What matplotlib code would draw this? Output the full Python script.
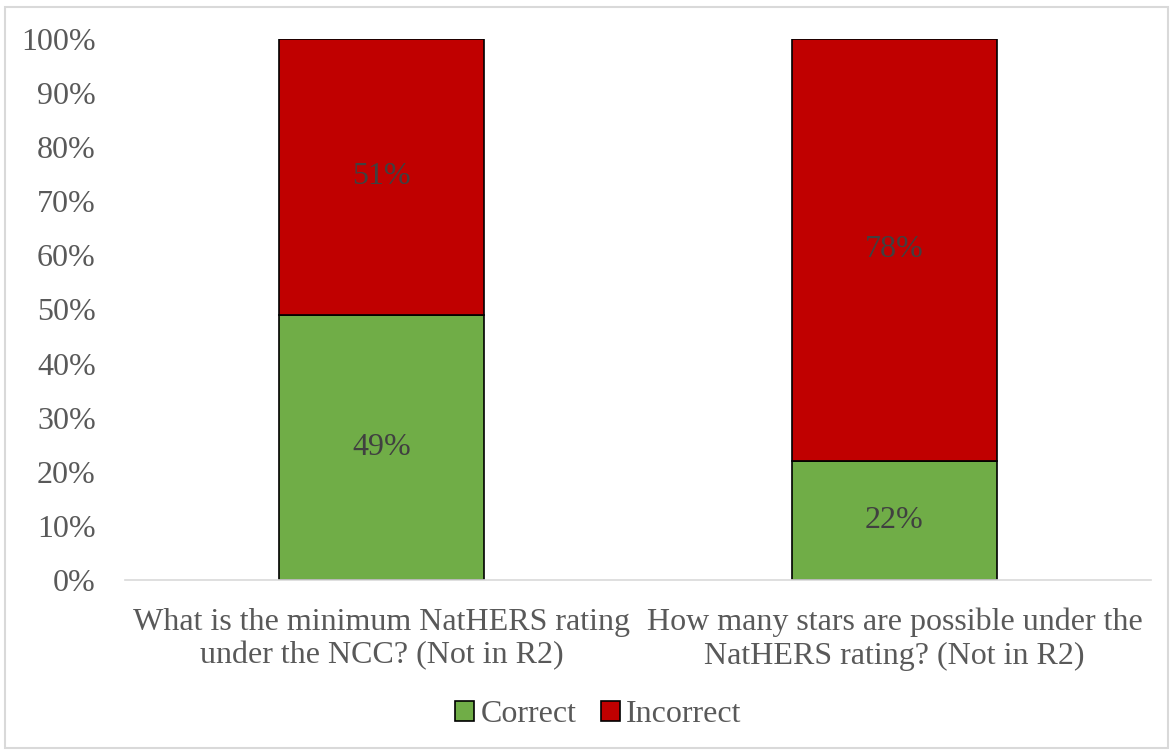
import numpy as np
import matplotlib.pyplot as plt
from matplotlib.patches import Rectangle

categories = ["What is the minimum NatHERS rating\nunder the NCC? (Not in R2)",
              "How many stars are possible under the\nNatHERS rating? (Not in R2)"]
correct = [49, 22]
incorrect = [51, 78]

plt.rcParams['font.family'] = ['Liberation Serif', 'DejaVu Serif']

fig = plt.figure(figsize=(11.73, 7.51), dpi=100)
ax = fig.add_axes([125 / 1173, 1 - 580 / 751, (1151 - 125) / 1173, (580 - 39) / 751])

x = np.arange(len(categories))
b1 = ax.bar(x, correct, width=0.4, color="#70AD47", edgecolor="black", linewidth=1.2, label="Correct")
b2 = ax.bar(x, incorrect, width=0.4, bottom=correct, color="#C00000", edgecolor="black", linewidth=1.2, label="Incorrect")

for i in range(len(categories)):
    ax.text(x[i], correct[i] / 2, f"{correct[i]}%", ha="center", va="center", fontsize=23, color="#404040")
    ax.text(x[i], correct[i] + incorrect[i] / 2, f"{incorrect[i]}%", ha="center", va="center", fontsize=23, color="#404040")

ax.set_xlim(-0.5, 1.5)
ax.set_ylim(0, 100)
ax.set_yticks(np.arange(0, 101, 10))
ax.set_yticklabels([f"{v}%" for v in range(0, 101, 10)])
ax.set_xticks(x)
ax.set_xticklabels(categories, fontsize=23, color="#595959", linespacing=1.2)
ax.tick_params(axis="y", labelsize=23, labelcolor="#595959", length=0, pad=21)
ax.tick_params(axis="x", length=0, pad=20)
for s in ["top", "right", "left"]:
    ax.spines[s].set_visible(False)
ax.spines["bottom"].set_color("#D9D9D9")
ax.spines["bottom"].set_linewidth(1.2)

leg = fig.legend(handles=[b1, b2], loc="center", bbox_to_anchor=(0.5 + 12 / 1173, 1 - 715 / 751), ncol=2,
                 frameon=False, fontsize=23, handlelength=0.6, handleheight=0.6,
                 handletextpad=0.2, columnspacing=0.75, labelcolor="#595959")

fig.patches.append(Rectangle((5 / 1173, 3 / 751), 1163 / 1173, 741 / 751, transform=fig.transFigure,
                             fill=False, edgecolor="#D9D9D9", linewidth=1.5))

fig.savefig("out.png", dpi=100)
